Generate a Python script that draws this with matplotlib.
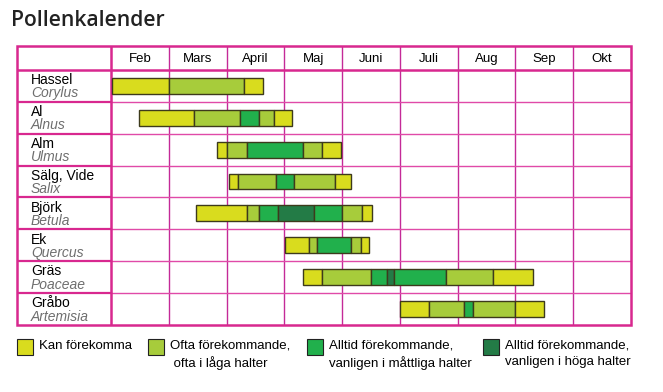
import matplotlib
matplotlib.use("Agg")
import matplotlib.pyplot as plt
from matplotlib.patches import Rectangle

# months shown in the header; x = month number, Feb starts at 2.0
months = ["Feb", "Mars", "April", "Maj", "Juni", "Juli", "Aug", "Sep", "Okt"]
month_start = 2

names = ["Hassel", "Al", "Alm", "Sälg, Vide", "Björk", "Ek", "Gräs", "Gråbo"]
latin = ["Corylus", "Alnus", "Ulmus", "Salix", "Betula", "Quercus", "Poaceae", "Artemisia"]

# segment edges (in months) and levels for each plant
# levels: 0 = kan förekomma, 1 = ofta, 2 = alltid måttliga, 3 = alltid höga
edges = [
    [2.02, 3.00, 4.31, 4.63],
    [2.48, 3.44, 4.24, 4.56, 4.83, 5.14],
    [3.83, 4.01, 4.35, 5.32, 5.66, 5.98],
    [4.04, 4.20, 4.85, 5.16, 5.88, 6.16],
    [3.48, 4.35, 4.57, 4.89, 5.52, 6.00, 6.35, 6.51],
    [5.01, 5.42, 5.57, 6.16, 6.32, 6.47],
    [5.32, 5.66, 6.50, 6.78, 6.90, 7.80, 8.62, 9.31],
    [7.01, 7.51, 8.11, 8.26, 8.99, 9.50],
]
levels = [
    [0, 1, 0],
    [0, 1, 2, 1, 0],
    [0, 1, 2, 1, 0],
    [0, 1, 2, 1, 0],
    [0, 1, 2, 3, 2, 1, 0],
    [0, 1, 2, 1, 0],
    [0, 1, 2, 3, 2, 1, 0],
    [0, 1, 2, 1, 0],
]

legend_text = ["Kan förekomma",
               "Ofta förekommande,\n ofta i låga halter",
               "Alltid förekommande,\nvanligen i måttliga halter",
               "Alltid förekommande,\nvanligen i höga halter"]
colors = ["#d9dc1e", "#a7cc3b", "#21b04c", "#237b46"]
edge_col = "#3d3a1c"
pink = "#d8288f"
pink_thin = "#e04aa8"

plt.rcParams["font.family"] = ["Liberation Sans", "DejaVu Sans"]

fig = plt.figure(figsize=(6.63, 3.92), dpi=100)
ax = fig.add_axes([17 / 663, 1 - 325 / 392, 614 / 663, 279 / 392])

label_w = 94 / 57.8
x0 = month_start - label_w
x1 = month_start + len(months)
head = 24 / 32
ax.set_xlim(x0, x1)
ax.set_ylim(len(names) - 0.5, -0.5 - head)
ax.axis("off")

# grid
n = len(names)
for i in range(1, len(months)):
    ax.plot([month_start + i] * 2, [-0.5 - head, n - 0.5], color="#c42a98", lw=1.0, zorder=1)
for r in range(1, n):
    ax.plot([month_start, x1], [r - 0.5] * 2, color=pink_thin, lw=1.0, zorder=1)
    ax.plot([x0, month_start], [r - 0.5] * 2, color=pink, lw=1.6, zorder=1)
ax.plot([x0, x1], [-0.5, -0.5], color=pink, lw=1.8, zorder=1)
ax.plot([month_start] * 2, [-0.5 - head, n - 0.5], color=pink, lw=1.8, zorder=1)
ax.add_patch(Rectangle((x0, -0.5 - head), x1 - x0, n + head, fill=False,
                       edgecolor=pink, lw=1.8, zorder=4, clip_on=False))

# month header
for i, m in enumerate(months):
    ax.text(month_start + i + 0.5, -0.5 - head / 2 + 0.03, m, ha="center", va="center",
            fontsize=9.5, color="black")

# bars
for r in range(n):
    e = edges[r]
    for k, lev in enumerate(levels[r]):
        ax.barh(r, e[k + 1] - e[k], left=e[k], height=0.5, color=colors[lev],
                edgecolor=edge_col, linewidth=1.0, zorder=3)
    ax.text(x0 + 0.24, r + 0.04, names[r], ha="left", va="bottom", fontsize=10, color="black")
    ax.text(x0 + 0.24, r + 0.02, latin[r], ha="left", va="top", fontsize=10,
            color="#6e6e6e", style="italic")

fig.text(11 / 663, 1 - 21 / 392, "Pollenkalender", fontsize=15.2, fontweight="semibold",
         family=["Open Sans", "DejaVu Sans"], color="#222222", va="center", ha="left")

# legend
sq_x = [17, 148, 307, 483]
for k in range(4):
    fig.patches.append(Rectangle((sq_x[k] / 663, 1 - 355 / 392), 16 / 663, 16 / 392,
                                 transform=fig.transFigure, facecolor=colors[k],
                                 edgecolor="#222222", lw=0.8))
    fig.text((sq_x[k] + 22) / 663, 1 - 340 / 392, legend_text[k], fontsize=9.5,
             va="top", ha="left", linespacing=1.4)

fig.savefig("out.png", dpi=100)
